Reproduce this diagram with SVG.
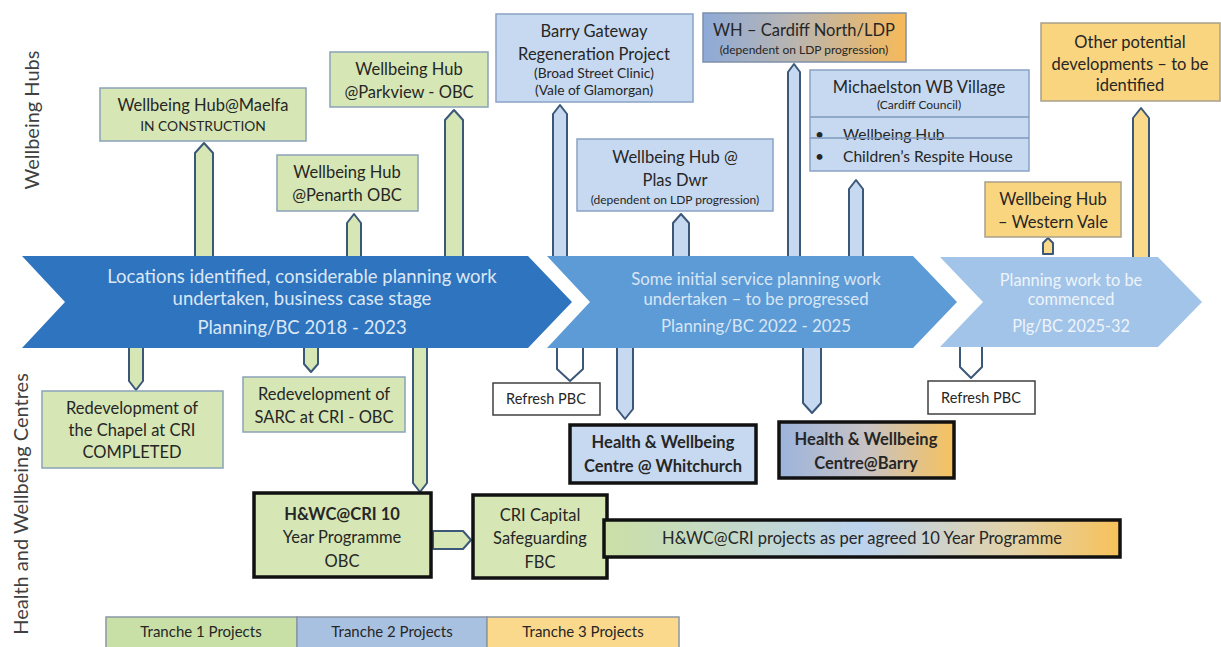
<svg xmlns="http://www.w3.org/2000/svg" width="1221" height="647" viewBox="0 0 1221 647">
<defs>
<style>
text{font-family:Lato,"Open Sans","Liberation Sans",sans-serif;fill:#262626;text-anchor:middle}
.t{font-size:16.5px}
.m{font-size:15px}
.mb{font-size:15.6px}
.s{font-size:14.5px}
.ic{font-size:13.8px}
.xs{font-size:12px}
.xb{font-size:13.8px}
.b{font-weight:bold}
.lbl{font-size:20px;fill:#404040}
.band1{font-size:18.5px;fill:#dbe7f5}
.band2{font-size:16.8px;fill:#d8e6f5}
.band3{font-size:16.3px;fill:#eef4fb}
.g{fill:#d6e7b5;stroke:#8aa3b8;stroke-width:1.5}
.bl{fill:#c6d9f0;stroke:#8aa3c4;stroke-width:1.5}
.y{fill:#fad57f;stroke:#a8a08a;stroke-width:1.5}
.hv{stroke:#111;stroke-width:3.5}
.w{fill:#fff;stroke:#404040;stroke-width:1.5}
.ar{stroke:#3c5878;stroke-width:2;stroke-linejoin:round}
.ag{fill:#d6e7b5}
.ab{fill:#c6d9f0}
.ay{fill:#fbd98a}
.aw{fill:#fff}
.leg{stroke:#8a96a4;stroke-width:1.5}
</style>
<linearGradient id="gNorth" x1="0" y1="0" x2="1" y2="0">
<stop offset="0" stop-color="#8eaad8"/><stop offset="0.45" stop-color="#b9b5b0"/><stop offset="1" stop-color="#f6b95a"/>
</linearGradient>
<linearGradient id="gBarry" x1="0" y1="0" x2="1" y2="0">
<stop offset="0" stop-color="#9cb4dc"/><stop offset="0.5" stop-color="#c7c2c4"/><stop offset="1" stop-color="#f6c25e"/>
</linearGradient>
<linearGradient id="gProg" x1="0" y1="0" x2="1" y2="0">
<stop offset="0" stop-color="#cbdfa6"/><stop offset="0.5" stop-color="#bcd3ee"/><stop offset="0.8" stop-color="#e3d2a6"/><stop offset="1" stop-color="#f7c15a"/>
</linearGradient>
</defs>
<rect width="1221" height="647" fill="#fff"/>

<g id="labels">
<text class="lbl" transform="translate(39,120) rotate(-90)">Wellbeing Hubs</text>
<text class="lbl" transform="translate(28,504) rotate(-90)">Health and Wellbeing Centres</text>
</g>

<g id="connectors">
<path class="ar ag" d="M195,258 V153 L204,143 L213,153 V258 Z"/>
<path class="ar ag" d="M347,258 V223 L354,214 L361,223 V258 Z"/>
<path class="ar ag" d="M445,258 V120 L454,110 L463,120 V258 Z"/>
<path class="ar ab" d="M553,258 V114 L560,105 L567,114 V258 Z"/>
<path class="ar ab" d="M673,258 V223 L681,214 L689,223 V258 Z"/>
<path class="ar ab" d="M788,258 V72 L794,64 L800,72 V258 Z"/>
<path class="ar ab" d="M849,258 V189 L856,180 L863,189 V258 Z"/>
<path class="ar ay" d="M1043,254 V243 L1048,238 L1053,243 V254 Z"/>
<path class="ar ay" d="M1133,258 V118 L1141,108 L1149,118 V258 Z"/>
<path class="ar ag" d="M129,346 V381 L136,390 L143,381 V346 Z"/>
<path class="ar ag" d="M304,346 V364 L311,372 L318,364 V346 Z"/>
<path class="ar ag" d="M413,346 V483 L420,492 L427,483 V346 Z"/>
<path class="ar aw" d="M557,346 V369 L570,381 L583,369 V346 Z"/>
<path class="ar ab" d="M617,346 V409 L625,419 L633,409 V346 Z"/>
<path class="ar ab" d="M803,346 V403 L812,413 L821,403 V346 Z"/>
<path class="ar aw" d="M960,346 V367 L971,378 L982,367 V346 Z"/>
<path class="ar ag" d="M433,531 H463 L471,540 L463,549 H433 Z"/>
</g>

<g id="phase1">
<path d="M22,256 H528 L572,302 L528,348 H22 L65,302 Z" fill="#2f74bf"/>
<text class="band1" x="302" y="283">Locations identified, considerable planning work</text>
<text class="band1" x="302" y="305">undertaken, business case stage</text>
<text class="band1" x="302" y="334">Planning/BC 2018 - 2023</text>
</g>
<g id="phase2">
<path d="M547,256 H913 L957,302 L913,348 H547 L590,302 Z" fill="#5d9bd6"/>
<text class="band2" x="756" y="285">Some initial service planning work</text>
<text class="band2" x="756" y="305">undertaken – to be progressed</text>
<text class="band2" x="756" y="332">Planning/BC 2022 - 2025</text>
</g>
<g id="phase3">
<path d="M940,257 H1158 L1202,302 L1158,347 H940 L983,302 Z" fill="#a2c4e8"/>
<text class="band3" x="1071" y="286">Planning work to be</text>
<text class="band3" x="1071" y="305">commenced</text>
<text class="band3" x="1071" y="332">Plg/BC 2025-32</text>
</g>

<g id="maelfa">
<rect class="g" x="100" y="88" width="206" height="53"/>
<text class="t" x="203" y="111">Wellbeing Hub@Maelfa</text>
<text class="ic" x="203" y="131">IN CONSTRUCTION</text>
</g>
<g id="penarth">
<rect class="g" x="277" y="155" width="141" height="56"/>
<text class="t" x="347" y="178">Wellbeing Hub</text>
<text class="t" x="347" y="201">@Penarth OBC</text>
</g>
<g id="parkview">
<rect class="g" x="330" y="52" width="158" height="55"/>
<text class="t" x="409" y="75">Wellbeing Hub</text>
<text class="t" x="409" y="98">@Parkview - OBC</text>
</g>
<g id="barrygateway">
<rect class="bl" x="496" y="14" width="197" height="88"/>
<text class="t" x="594" y="37">Barry Gateway</text>
<text class="t" x="594" y="60">Regeneration Project</text>
<text class="xb" x="594" y="78">(Broad Street Clinic)</text>
<text class="xb" x="594" y="95">(Vale of Glamorgan)</text>
</g>
<g id="plasdwr">
<rect class="bl" x="577" y="139" width="196" height="72"/>
<text class="t" x="675" y="163">Wellbeing Hub @</text>
<text class="t" x="675" y="186">Plas Dwr</text>
<text class="xs" x="675" y="204">(dependent on LDP progression)</text>
</g>
<g id="cardiffnorth">
<rect x="703" y="13" width="203" height="49" fill="url(#gNorth)" stroke="#7f8fa8" stroke-width="1.5"/>
<text class="t" x="804" y="36">WH – Cardiff North/LDP</text>
<text class="xs" x="804" y="54">(dependent on LDP progression)</text>
</g>
<g id="michaelston">
<rect class="bl" x="810" y="70" width="219" height="101"/>
<line x1="810" y1="117" x2="1029" y2="117" stroke="#7f98bd" stroke-width="1.5"/>
<text class="t" x="919" y="93">Michaelston WB Village</text>
<text class="xs" x="919" y="109">(Cardiff Council)</text>
<text class="mb" x="815" y="140" style="text-anchor:start">•</text>
<text class="mb" x="843" y="140" style="text-anchor:start">Wellbeing Hub</text>
<line x1="810" y1="138" x2="1029" y2="138" stroke="#7f98bd" stroke-width="1.5"/>
<text class="mb" x="815" y="162" style="text-anchor:start">•</text>
<text class="mb" x="843" y="162" style="text-anchor:start">Children’s Respite House</text>
</g>
<g id="westernvale">
<rect class="y" x="985" y="182" width="136" height="55"/>
<text class="t" x="1053" y="205">Wellbeing Hub</text>
<text class="t" x="1053" y="228">– Western Vale</text>
</g>
<g id="other">
<rect class="y" x="1041" y="23" width="179" height="78"/>
<text class="t" x="1130" y="48">Other potential</text>
<text class="t" x="1130" y="70">developments – to be</text>
<text class="t" x="1130" y="91">identified</text>
</g>

<g id="chapel">
<rect class="g" x="42" y="391" width="181" height="77"/>
<text class="t" x="132" y="414">Redevelopment of</text>
<text class="t" x="132" y="436">the Chapel at CRI</text>
<text class="t" x="132" y="458">COMPLETED</text>
</g>
<g id="sarc">
<rect class="g" x="243" y="377" width="162" height="55"/>
<text class="t" x="324" y="400">Redevelopment of</text>
<text class="t" x="324" y="423">SARC at CRI -  OBC</text>
</g>
<g id="refresh1">
<rect class="w" x="493" y="383" width="107" height="32"/>
<text class="s" x="546" y="404">Refresh PBC</text>
</g>
<g id="whitchurch">
<rect class="bl hv" x="570" y="425" width="186" height="58"/>
<text class="t b" x="663" y="448">Health &amp; Wellbeing</text>
<text class="t b" x="663" y="472">Centre @ Whitchurch</text>
</g>
<g id="barryhwc">
<rect class="hv" x="779" y="422" width="175" height="56" fill="url(#gBarry)"/>
<text class="t b" x="866" y="445">Health &amp; Wellbeing</text>
<text class="t b" x="866" y="469">Centre@Barry</text>
</g>
<g id="refresh2">
<rect class="w" x="928" y="381" width="107" height="33"/>
<text class="s" x="981" y="403">Refresh PBC</text>
</g>
<g id="hwccri">
<rect class="g hv" x="254" y="493" width="177" height="84"/>
<text class="t b" x="342" y="520">H&amp;WC@CRI 10</text>
<text class="t" x="342" y="543">Year Programme</text>
<text class="t" x="342" y="567">OBC</text>
</g>
<g id="cricapital">
<rect class="g hv" x="473" y="495" width="134" height="83"/>
<text class="t" x="540" y="521">CRI Capital</text>
<text class="t" x="540" y="544">Safeguarding</text>
<text class="t" x="540" y="568">FBC</text>
</g>
<g id="programme">
<rect class="hv" x="604" y="520" width="516" height="37" fill="url(#gProg)"/>
<text class="t" x="862" y="544">H&amp;WC@CRI projects as per agreed 10 Year Programme</text>
</g>

<g id="legend">
<rect class="leg" x="106" y="617" width="191" height="32" fill="#c8e0a6"/>
<text class="m" x="201" y="637">Tranche 1 Projects</text>
<rect class="leg" x="297" y="617" width="190" height="32" fill="#a9c1e0"/>
<text class="m" x="392" y="637">Tranche 2 Projects</text>
<rect class="leg" x="487" y="617" width="192" height="32" fill="#fbd98c"/>
<text class="m" x="583" y="637">Tranche 3 Projects</text>
</g>
</svg>
